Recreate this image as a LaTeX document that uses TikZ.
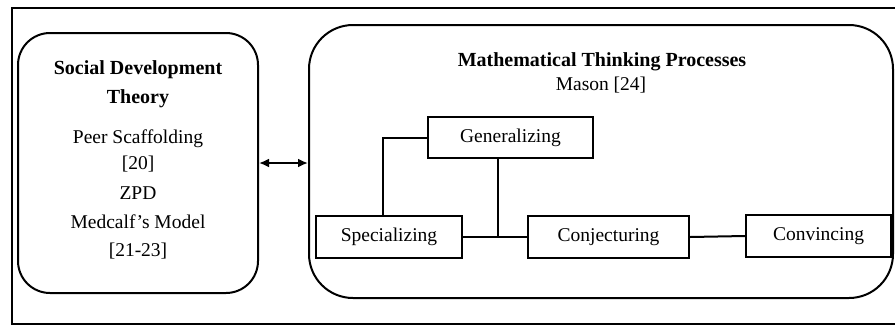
\documentclass[tikz,border=0pt]{standalone}
\usepackage{fontspec}
\setmainfont{Liberation Serif}
\usetikzlibrary{arrows.meta,calc}
\tikzset{
  roundbox/.style={draw, line width=2pt, rounded corners=32pt, inner sep=0pt},
  procbox/.style={draw, line width=2.2pt, inner sep=0pt, font=\fontsize{19.5}{22}\selectfont},
  txt/.style={anchor=base, inner sep=0pt, font=\fontsize{19.5}{22}\selectfont},
  btxt/.style={txt, font=\fontsize{20}{22}\selectfont\bfseries},
  link/.style={line width=2pt},
}
\begin{document}
\begin{tikzpicture}[x=1pt,y=-1pt]
\useasboundingbox (0,0) rectangle (895,325);
\draw[line width=2pt] (12,8) rectangle (905,324);
% left box
\node[roundbox, minimum width=240pt, minimum height=260pt] (left) at (138,163) {};
\node[btxt] (t1) at (138,74) {Social Development};
\node[btxt] (t2) at (138,103) {Theory};
\node[txt] (t3) at (138,143) {Peer Scaffolding};
\node[txt] (t4) at (138,169) {[20]};
\node[txt] (t5) at (138,199) {ZPD};
\node[txt] (t6) at (138,228) {Medcalf’s Model};
\node[txt] (t7) at (138,256) {[21-23]};
% right box
\node[roundbox, rounded corners=44pt, minimum width=584pt, minimum height=273pt] (right) at (601,161.5) {};
\node[btxt] (m1) at (602,66) {Mathematical Thinking Processes};
\node[txt] (m2) at (601,90) {Mason [24]};
% arrow
\draw[line width=2.4pt, {Latex[length=10pt,width=9pt]}-{Latex[length=10pt,width=9pt]}] (left.east) -- (left.east -| right.west);
% process boxes
\node[procbox, minimum width=165pt, minimum height=41pt] (gen) at (510.5,137.5) {Generalizing};
\node[procbox, minimum width=146pt, minimum height=42pt] (spec) at (389,237) {Specializing};
\node[procbox, minimum width=161pt, minimum height=42pt] (conj) at (608.5,237) {Conjecturing};
\node[procbox, minimum width=145pt, minimum height=42pt] (conv) at (818.5,236) {Convincing};
% connectors
\draw[link] ([xshift=-6pt]spec.north) |- (gen.west);
\draw[link] (spec.east) -- (conj.west);
\draw[link] ([xshift=-13pt]gen.south) -- ([xshift=-13pt]gen.south |- spec.east);
\draw[link] (conj.east) -- (conv.west);
\end{tikzpicture}
\end{document}
